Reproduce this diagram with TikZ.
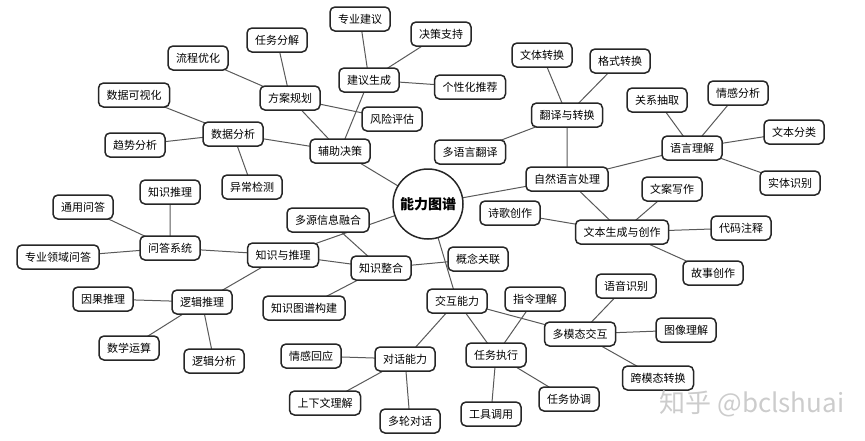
\documentclass[tikz,border=0pt]{standalone}
\usepackage{fontspec}
\setmainfont{Noto Sans CJK SC}
\usetikzlibrary{backgrounds}

\begin{document}
\begin{tikzpicture}[x=1pt,y=-1pt,font=\fontsize{11}{13}\selectfont,
  box/.style={draw=black!85,line width=1.5pt,rounded corners=5pt,fill=white,inner xsep=8pt,inner ysep=0pt,minimum height=24pt},
  hub/.style={draw=black!85,line width=1.5pt,circle,fill=white,minimum size=70pt,inner sep=0pt,font=\fontsize{14}{16}\selectfont\bfseries},
  link/.style={draw=black!65,line width=1pt}]
\useasboundingbox (0,0) rectangle (865,440);
\node[hub] (hub) at (428,204) {能力图谱};
% decision support
\node[box] (assist) at (340,151) {辅助决策};
\node[box] (plan) at (290,98) {方案规划};
\node[box] (split) at (277,40) {任务分解};
\node[box] (flow) at (198,58) {流程优化};
\node[box] (risk) at (392,119) {风险评估};
\node[box] (advice) at (369,80) {建议生成};
\node[box] (expert) at (360,19) {专业建议};
\node[box] (support) at (441,34) {决策支持};
\node[box] (recommend) at (470,87) {个性化推荐};
\node[box] (data) at (233,134) {数据分析};
\node[box] (visual) at (134,95) {数据可视化};
\node[box] (trend) at (135,145) {趋势分析};
\node[box] (anomaly) at (252,187) {异常检测};
% language
\node[box] (nlp) at (567,179) {自然语言处理};
\node[box] (translate) at (567,115) {翻译与转换};
\node[box] (style) at (542,55) {文体转换};
\node[box] (format) at (620,61) {格式转换};
\node[box] (multiling) at (470,152) {多语言翻译};
\node[box] (understand) at (692,148) {语言理解};
\node[box] (relation) at (657,100) {关系抽取};
\node[box] (sentiment) at (738,93) {情感分析};
\node[box] (classify) at (794,132) {文本分类};
\node[box] (entity) at (790,183) {实体识别};
\node[box] (generate) at (622,232) {文本生成与创作};
\node[box] (copy) at (672,189) {文案写作};
\node[box] (comment) at (741,228) {代码注释};
\node[box] (story) at (713,273) {故事创作};
\node[box] (poem) at (510,213) {诗歌创作};
% knowledge
\node[box] (knowledge) at (283,255) {知识与推理};
\node[box] (qa) at (170,248) {问答系统};
\node[box] (kinfer) at (170,192) {知识推理};
\node[box] (generalqa) at (83,207) {通用问答};
\node[box] (domainqa) at (58,257) {专业领域问答};
\node[box] (logic) at (202,302) {逻辑推理};
\node[box] (causal) at (103,299) {因果推理};
\node[box] (math) at (129,348) {数学运算};
\node[box] (analysis) at (214,361) {逻辑分析};
\node[box] (integrate) at (381,268) {知识整合};
\node[box] (fusion) at (328,220) {多源信息融合};
\node[box] (concept) at (478,259) {概念关联};
\node[box] (kgbuild) at (304,308) {知识图谱构建};
% interaction
\node[box] (interact) at (457,301) {交互能力};
\node[box] (dialog) at (405,359) {对话能力};
\node[box] (empathy) at (311,356) {情感回应};
\node[box] (context) at (325,403) {上下文理解};
\node[box] (multiturn) at (410,421) {多轮对话};
\node[box] (execute) at (496,355) {任务执行};
\node[box] (instruct) at (535,299) {指令理解};
\node[box] (tool) at (491,414) {工具调用};
\node[box] (coord) at (569,399) {任务协调};
\node[box] (multimodal) at (580,334) {多模态交互};
\node[box] (speech) at (626,286) {语音识别};
\node[box] (image) at (686,330) {图像理解};
\node[box] (crossmodal) at (658,378) {跨模态转换};
\node[text=black!20,font=\fontsize{26}{28}\selectfont] (mark) at (752,404) {知乎 @bclshuai};
\begin{pgfonlayer}{background}
\draw[link] (hub.center) -- (assist.center) (hub.center) -- (nlp.center)
  (hub.center) -- (knowledge.center) (hub.center) -- (interact.center);
\draw[link] (assist.center) -- (plan.center) (assist.center) -- (advice.center) (assist.center) -- (data.center);
\draw[link] (plan.center) -- (split.center) (plan.center) -- (flow.center) (plan.center) -- (risk.center);
\draw[link] (advice.center) -- (expert.center) (advice.center) -- (support.center) (advice.center) -- (recommend.center);
\draw[link] (data.center) -- (visual.center) (data.center) -- (trend.center) (data.center) -- (anomaly.center);
\draw[link] (nlp.center) -- (translate.center) (nlp.center) -- (understand.center) (nlp.center) -- (generate.center);
\draw[link] (translate.center) -- (style.center) (translate.center) -- (format.center) (translate.center) -- (multiling.center);
\draw[link] (understand.center) -- (relation.center) (understand.center) -- (sentiment.center)
  (understand.center) -- (classify.center) (understand.center) -- (entity.center);
\draw[link] (generate.center) -- (copy.center) (generate.center) -- (comment.center)
  (generate.center) -- (story.center) (generate.center) -- (poem.center);
\draw[link] (knowledge.center) -- (qa.center) (knowledge.center) -- (logic.center) (knowledge.center) -- (integrate.center);
\draw[link] (qa.center) -- (kinfer.center) (qa.center) -- (generalqa.center) (qa.center) -- (domainqa.center);
\draw[link] (logic.center) -- (causal.center) (logic.center) -- (math.center) (logic.center) -- (analysis.center);
\draw[link] (integrate.center) -- (fusion.center) (integrate.center) -- (concept.center) (integrate.center) -- (kgbuild.center);
\draw[link] (interact.center) -- (dialog.center) (interact.center) -- (execute.center) (interact.center) -- (multimodal.center);
\draw[link] (dialog.center) -- (empathy.center) (dialog.center) -- (context.center) (dialog.center) -- (multiturn.center);
\draw[link] (execute.center) -- (tool.center) (execute.center) -- (coord.center) (execute.center) -- (instruct.center);
\draw[link] (multimodal.center) -- (speech.center) (multimodal.center) -- (image.center) (multimodal.center) -- (crossmodal.center);
\end{pgfonlayer}
\end{tikzpicture}
\end{document}
